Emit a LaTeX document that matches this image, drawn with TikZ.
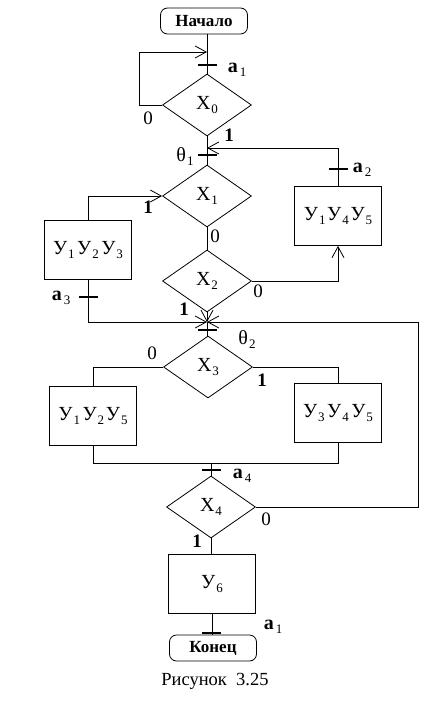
\documentclass[tikz,border=0pt]{standalone}
\usepackage{fontspec}
\setmainfont{Liberation Serif}
\usetikzlibrary{arrows.meta,shapes.geometric}
\newcommand\sbx[2]{{\fontsize{20}{20}\selectfont #1}\kern1pt\raisebox{-4pt}{\fontsize{13}{13}\selectfont #2}}
\newcommand\sbb[2]{{\fontsize{20}{20}\selectfont\bfseries #1}\kern2pt\raisebox{-4pt}{\fontsize{13}{13}\selectfont #2}}
\begin{document}
\begin{tikzpicture}[x=1pt,y=-1pt,line width=0.8pt,
  box/.style={draw,rectangle,minimum width=87pt,minimum height=59pt,inner sep=0pt},
  term/.style={draw,rounded corners=7pt,minimum width=87pt,minimum height=26pt,inner sep=0pt,font=\fontsize{17}{17}\selectfont\bfseries},
  dec/.style={draw,diamond,minimum width=89pt,minimum height=62pt,inner sep=0pt},
  tickbar/.style={fill=black,rectangle,minimum width=19pt,minimum height=2.2pt,inner sep=0pt},
  arr/.style={-{Straight Barb[length=11pt,width=12pt]}},
  lab/.style={inner sep=0pt,font=\fontsize{19}{19}\selectfont},
  labb/.style={inner sep=0pt,font=\fontsize{19}{19}\selectfont\bfseries}]
\useasboundingbox (0,0) rectangle (436,703);

% nodes
\node[term] (start) at (204,21) {Начало};
\node[dec] (d0) at (207,105) {\sbx{X}{0}};
\node[dec] (d1) at (207,196) {\sbx{X}{1}};
\node[dec] (d2) at (207,281) {\sbx{X}{2}};
\node[dec] (d3) at (208,367) {\sbx{X}{3}};
\node[dec] (d4) at (211,507) {\sbx{X}{4}};
\node[box] (b123) at (88,250) {\sbx{У}{1}\ \sbx{У}{2}\ \sbx{У}{3}};
\node[box] (b145) at (338,216) {\sbx{У}{1}\,\sbx{У}{4}\,\sbx{У}{5}};
\node[box] (b125) at (93,416) {\sbx{У}{1}\ \sbx{У}{2}\,\sbx{У}{5}};
\node[box] (b345) at (338,413) {\sbx{У}{3}\ \sbx{У}{4}\ \sbx{У}{5}};
\node[box] (b6) at (212,584) {\sbx{У}{6}};
\node[term] (end) at (213,648) {Конец};

\coordinate (j0) at (207,52);
\coordinate (j1) at (207,148);
\coordinate (j2) at (207,322);
\coordinate (j3) at (212,463);
\coordinate (rr) at (418,507);

% connectors
\draw (start.south -| d0.north) -- (d0.north);
\draw[arr] (d0.west) -- ++(-23,0) |- (j0);
\draw (d0.south) -- (d1.north);
\draw[arr] (b145.north) -- (b145.north |- j1) -- (j1);
\draw[arr] (b123.north) |- (d1.west);
\draw (d1.south) -- (d2.north);
\draw[arr] (d2.east) -| (b145.south);
\draw[arr] (b123.south) |- (j2);
\draw[arr] (d2.south) -- (j2);
\draw[arr] (d4.east) -- (d4.east -| rr) |- (j2);
\draw (j2) -- (j2 |- d3.north);
\draw (d3.west) -| (b125.north);
\draw (d3.east) -| (b345.north);
\draw (b125.south) -- (b125.south |- j3) -- (b345.south |- j3) -- (b345.south);
\draw (j3 -| d4.north) -- (d4.north);
\draw (d4.south) -- (d4.south |- b6.north);
\draw (b6.south) -- (b6.south |- end.north);

% ticks
\node[tickbar] (t1) at (207,65) {};
\node[tickbar] (t2) at (207,155) {};
\node[tickbar] (t3) at (338,169) {};
\node[tickbar] (t4) at (88,297) {};
\node[tickbar] (t5) at (207,330) {};
\node[tickbar] (t6) at (211,470) {};
\node[tickbar] (t7) at (211,633) {};

% labels
\node[lab] (la1) at (237,70) {\sbb{a}{1}};
\node[lab] (lth1) at (185,157) {\sbx{θ}{1}};
\node[lab] (la2) at (362,170) {\sbb{a}{2}};
\node[lab] (la3) at (61,298) {\sbb{a}{3}};
\node[lab] (lth2) at (247,340) {\sbx{θ}{2}};
\node[lab] (la4) at (242,476) {\sbb{a}{4}};
\node[lab] (la1b) at (273,627) {\sbb{a}{1}};

\node[lab] (n00) at (148,118) {0};
\node[labb] (n01) at (229,135) {1};
\node[labb] (n11) at (148,207) {1};
\node[lab] (n10) at (215,236) {0};
\node[lab] (n20) at (258,291) {0};
\node[labb] (n21) at (184,309) {1};
\node[lab] (n30) at (152,353) {0};
\node[labb] (n31) at (262,380) {1};
\node[lab] (n40) at (266,519) {0};
\node[labb] (n41) at (197,541) {1};

\node[inner sep=0pt,font=\fontsize{18.5}{18.5}\selectfont] (cap) at (215,681) {Рисунок\ \ 3.25};
\end{tikzpicture}
\end{document}
